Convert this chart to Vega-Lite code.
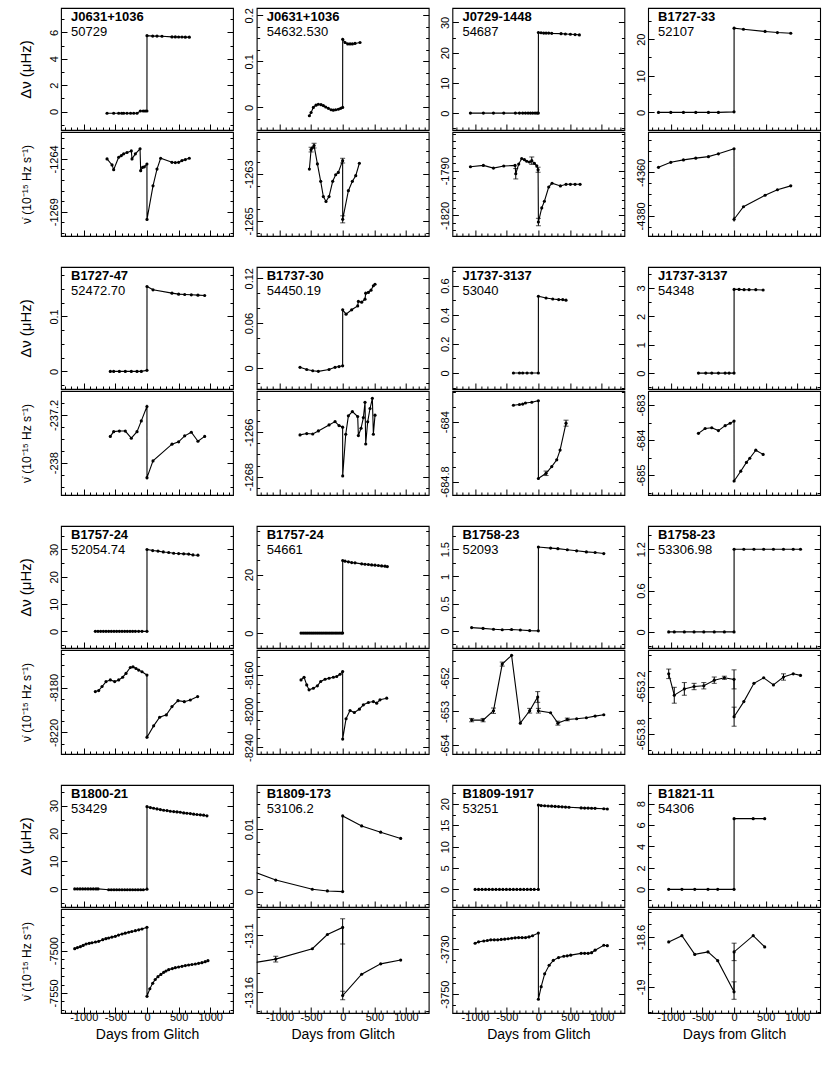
{
"$schema":"https://vega.github.io/schema/vega-lite/v6.json",
"background":"white",
"padding":{"left":17,"top":7,"right":0,"bottom":0},
"datasets":{
"p1t":[{"d":-632,"v":-0.13},{"d":-527,"v":-0.13},{"d":-448,"v":-0.13},{"d":-400,"v":-0.13},{"d":-369,"v":-0.13},{"d":-316,"v":-0.13},{"d":-260,"v":-0.13},{"d":-210,"v":-0.13},{"d":-158,"v":-0.13},{"d":-105,"v":0.04},{"d":-60,"v":0.04},{"d":-30,"v":0.04},{"d":-1,"v":0.04},{"d":0,"v":5.75},{"d":90,"v":5.72},{"d":158,"v":5.72},{"d":237,"v":5.71},{"d":395,"v":5.66},{"d":448,"v":5.66},{"d":500,"v":5.65},{"d":553,"v":5.65},{"d":606,"v":5.64},{"d":669,"v":5.64}],
"p1b":[{"d":-632,"v":-1264.0},{"d":-553,"v":-1264.57},{"d":-527,"v":-1265.02},{"d":-448,"v":-1263.84},{"d":-406,"v":-1263.68},{"d":-369,"v":-1263.52},{"d":-316,"v":-1263.39},{"d":-248,"v":-1263.24},{"d":-237,"v":-1264.0},{"d":-184,"v":-1263.52},{"d":-110,"v":-1263.04},{"d":-100,"v":-1265.11},{"d":-69,"v":-1264.8},{"d":-42,"v":-1264.75},{"d":-1,"v":-1264.48},{"d":0,"v":-1269.73},{"d":95,"v":-1266.55},{"d":158,"v":-1264.96},{"d":216,"v":-1263.94},{"d":395,"v":-1264.32},{"d":448,"v":-1264.35},{"d":500,"v":-1264.32},{"d":553,"v":-1264.16},{"d":606,"v":-1264.06},{"d":669,"v":-1263.94}],
"p2t":[{"d":-527,"v":-0.018},{"d":-500,"v":-0.011},{"d":-464,"v":0.0},{"d":-422,"v":0.005},{"d":-385,"v":0.007},{"d":-343,"v":0.006},{"d":-306,"v":0.004},{"d":-269,"v":0.001},{"d":-227,"v":-0.002},{"d":-184,"v":-0.005},{"d":-148,"v":-0.006},{"d":-111,"v":-0.005},{"d":-69,"v":-0.004},{"d":-32,"v":-0.002},{"d":-1,"v":0.0},{"d":0,"v":0.148},{"d":37,"v":0.141},{"d":79,"v":0.138},{"d":116,"v":0.138},{"d":153,"v":0.138},{"d":195,"v":0.139},{"d":274,"v":0.141}],
"p2b":[{"d":-527,"v":-1262.79},{"d":-500,"v":-1261.96,"lo":-1262.06,"hi":-1261.86},{"d":-480,"v":-1261.88},{"d":-453,"v":-1261.79,"lo":-1261.89,"hi":-1261.69},{"d":-400,"v":-1262.57},{"d":-348,"v":-1263.31},{"d":-306,"v":-1263.96},{"d":-264,"v":-1264.17},{"d":-216,"v":-1263.96},{"d":-158,"v":-1263.31},{"d":-111,"v":-1263.03},{"d":-69,"v":-1262.93},{"d":-1,"v":-1262.43,"lo":-1262.53,"hi":-1262.33},{"d":0,"v":-1264.93,"lo":-1265.08,"hi":-1264.78},{"d":90,"v":-1263.71},{"d":153,"v":-1263.31},{"d":206,"v":-1263.07},{"d":264,"v":-1262.54}],
"p3t":[{"d":-1075,"v":0},{"d":-870,"v":0},{"d":-711,"v":0},{"d":-548,"v":0},{"d":-364,"v":0},{"d":-300,"v":0},{"d":-248,"v":0},{"d":-205,"v":0},{"d":-163,"v":0},{"d":-126,"v":0},{"d":-90,"v":0},{"d":-53,"v":0},{"d":-21,"v":0},{"d":-1,"v":0},{"d":0,"v":26.7},{"d":42,"v":26.6},{"d":84,"v":26.5},{"d":121,"v":26.5},{"d":163,"v":26.5},{"d":211,"v":26.4},{"d":358,"v":26.3},{"d":427,"v":26.2},{"d":506,"v":26.1},{"d":580,"v":26.0},{"d":648,"v":25.9}],
"p3b":[{"d":-1075,"v":-1787.3},{"d":-870,"v":-1786.4},{"d":-711,"v":-1788.2},{"d":-548,"v":-1786.8},{"d":-369,"v":-1786.4},{"d":-358,"v":-1792,"lo":-1795.5,"hi":-1788.5},{"d":-311,"v":-1785.5},{"d":-264,"v":-1781.8},{"d":-221,"v":-1782.5},{"d":-184,"v":-1783.6},{"d":-142,"v":-1784.1},{"d":-105,"v":-1783.2,"lo":-1785.7,"hi":-1780.7},{"d":-63,"v":-1785.0},{"d":-26,"v":-1786.6},{"d":-5,"v":-1789.3,"lo":-1791,"hi":-1787.6},{"d":0,"v":-1824.5,"lo":-1827,"hi":-1822},{"d":53,"v":-1815},{"d":95,"v":-1810.5},{"d":163,"v":-1800.9},{"d":216,"v":-1798.4},{"d":348,"v":-1800.2},{"d":437,"v":-1799.1},{"d":506,"v":-1799.1},{"d":580,"v":-1799.1},{"d":659,"v":-1799.1}],
"p4t":[{"d":-1196,"v":0},{"d":-1001,"v":0},{"d":-801,"v":0},{"d":-606,"v":0},{"d":-406,"v":0},{"d":-248,"v":0},{"d":-1,"v":0.15},{"d":0,"v":23.0},{"d":148,"v":22.7},{"d":490,"v":22.1},{"d":685,"v":21.8},{"d":896,"v":21.6}],
"p4b":[{"d":-1196,"v":-4357.7},{"d":-1001,"v":-4355.4},{"d":-801,"v":-4354.3},{"d":-606,"v":-4353.5},{"d":-406,"v":-4352.8},{"d":-248,"v":-4351.5},{"d":-1,"v":-4349.2},{"d":0,"v":-4381.5,"lo":-4382.6,"hi":-4380.4},{"d":148,"v":-4375.8},{"d":490,"v":-4370.5},{"d":685,"v":-4368},{"d":896,"v":-4366.2}],
"p5t":[{"d":-580,"v":0},{"d":-527,"v":0},{"d":-437,"v":0},{"d":-343,"v":0},{"d":-248,"v":0},{"d":-158,"v":0},{"d":-90,"v":0},{"d":-1,"v":0.002},{"d":0,"v":0.1545},{"d":95,"v":0.1485},{"d":395,"v":0.1424},{"d":500,"v":0.1406},{"d":596,"v":0.14},{"d":701,"v":0.1394},{"d":806,"v":0.1388},{"d":912,"v":0.1382}],
"p5b":[{"d":-580,"v":-237.56},{"d":-527,"v":-237.48},{"d":-437,"v":-237.47},{"d":-343,"v":-237.47},{"d":-248,"v":-237.59},{"d":-158,"v":-237.48},{"d":-90,"v":-237.3},{"d":-1,"v":-237.06,"lo":-237.09,"hi":-237.03},{"d":0,"v":-238.25,"lo":-238.28,"hi":-238.22},{"d":95,"v":-237.97},{"d":395,"v":-237.69},{"d":500,"v":-237.65},{"d":596,"v":-237.55},{"d":701,"v":-237.49},{"d":806,"v":-237.64},{"d":912,"v":-237.56}],
"p6t":[{"d":-675,"v":0.001},{"d":-569,"v":-0.002},{"d":-474,"v":-0.0036},{"d":-385,"v":-0.0044},{"d":-216,"v":-0.002},{"d":-121,"v":0.001},{"d":-58,"v":0.002},{"d":-1,"v":0.003},{"d":0,"v":0.0778},{"d":53,"v":0.072},{"d":142,"v":0.0778},{"d":237,"v":0.083},{"d":248,"v":0.089},{"d":300,"v":0.088},{"d":353,"v":0.092},{"d":364,"v":0.1},{"d":406,"v":0.101},{"d":448,"v":0.104},{"d":485,"v":0.11},{"d":511,"v":0.112}],
"p6b":[{"d":-675,"v":-1266.12},{"d":-569,"v":-1266.06},{"d":-474,"v":-1266.08},{"d":-385,"v":-1265.94},{"d":-216,"v":-1265.67},{"d":-121,"v":-1265.52},{"d":-58,"v":-1265.7},{"d":-1,"v":-1265.77},{"d":0,"v":-1267.97},{"d":48,"v":-1266.09},{"d":90,"v":-1265.26},{"d":153,"v":-1265.07},{"d":237,"v":-1265.29},{"d":248,"v":-1266.15},{"d":290,"v":-1265.82},{"d":327,"v":-1265.34},{"d":353,"v":-1264.65},{"d":364,"v":-1266.53},{"d":395,"v":-1265.53},{"d":432,"v":-1264.93},{"d":469,"v":-1264.47},{"d":485,"v":-1266.09},{"d":511,"v":-1265.23}],
"p7t":[{"d":-395,"v":0},{"d":-300,"v":0},{"d":-248,"v":0},{"d":-179,"v":0},{"d":-105,"v":0},{"d":-1,"v":0},{"d":0,"v":0.527},{"d":121,"v":0.515},{"d":227,"v":0.508},{"d":321,"v":0.504},{"d":385,"v":0.504},{"d":437,"v":0.5}],
"p7b":[{"d":-395,"v":-683.78},{"d":-300,"v":-683.77},{"d":-248,"v":-683.765},{"d":-205,"v":-683.75},{"d":-105,"v":-683.74},{"d":-1,"v":-683.72},{"d":0,"v":-684.76},{"d":121,"v":-684.69,"lo":-684.72,"hi":-684.66},{"d":211,"v":-684.6},{"d":290,"v":-684.51},{"d":343,"v":-684.38},{"d":437,"v":-684.02,"lo":-684.06,"hi":-683.98}],
"p8t":[{"d":-564,"v":0},{"d":-448,"v":0},{"d":-353,"v":0},{"d":-248,"v":0},{"d":-142,"v":0},{"d":-79,"v":0},{"d":-1,"v":0},{"d":0,"v":2.95},{"d":79,"v":2.95},{"d":158,"v":2.94},{"d":237,"v":2.94},{"d":343,"v":2.94},{"d":459,"v":2.93}],
"p8b":[{"d":-564,"v":-683.81},{"d":-458,"v":-683.67},{"d":-353,"v":-683.65},{"d":-248,"v":-683.73},{"d":-142,"v":-683.59},{"d":-63,"v":-683.52},{"d":-1,"v":-683.46},{"d":0,"v":-685.17},{"d":105,"v":-684.89},{"d":195,"v":-684.64},{"d":248,"v":-684.52},{"d":343,"v":-684.29},{"d":459,"v":-684.41}],
"p9t":[{"d":-817,"v":0},{"d":-775,"v":0},{"d":-733,"v":0},{"d":-690,"v":0},{"d":-648,"v":0},{"d":-606,"v":0},{"d":-564,"v":0},{"d":-522,"v":0},{"d":-480,"v":0},{"d":-437,"v":0},{"d":-395,"v":0},{"d":-353,"v":0},{"d":-311,"v":0},{"d":-269,"v":0},{"d":-227,"v":0},{"d":-184,"v":0},{"d":-132,"v":0},{"d":-79,"v":0},{"d":-1,"v":0},{"d":0,"v":30.0},{"d":90,"v":29.6},{"d":174,"v":29.4},{"d":258,"v":29.1},{"d":343,"v":28.9},{"d":422,"v":28.6},{"d":500,"v":28.5},{"d":580,"v":28.4},{"d":659,"v":28.3},{"d":727,"v":28.0},{"d":806,"v":27.9}],
"p9b":[{"d":-817,"v":-8183.6},{"d":-764,"v":-8182.7},{"d":-711,"v":-8179.1},{"d":-648,"v":-8174.7},{"d":-580,"v":-8173.2},{"d":-511,"v":-8174.7},{"d":-448,"v":-8173.2},{"d":-385,"v":-8170.8},{"d":-332,"v":-8167.4},{"d":-264,"v":-8162.1},{"d":-221,"v":-8161.5},{"d":-174,"v":-8163},{"d":-132,"v":-8164.4},{"d":-79,"v":-8165.9},{"d":-1,"v":-8168.9},{"d":0,"v":-8224.3},{"d":105,"v":-8214.2},{"d":200,"v":-8206.5},{"d":306,"v":-8204.4},{"d":395,"v":-8197},{"d":490,"v":-8191.7},{"d":590,"v":-8192.6},{"d":685,"v":-8191.1},{"d":801,"v":-8188.1}],
"p10t":[{"d":-659,"v":0},{"d":-627,"v":0},{"d":-595,"v":0},{"d":-564,"v":0},{"d":-532,"v":0},{"d":-500,"v":0},{"d":-469,"v":0},{"d":-437,"v":0},{"d":-405,"v":0},{"d":-374,"v":0},{"d":-342,"v":0},{"d":-311,"v":0},{"d":-279,"v":0},{"d":-248,"v":0},{"d":-216,"v":0},{"d":-184,"v":0},{"d":-153,"v":0},{"d":-121,"v":0},{"d":-90,"v":0},{"d":-58,"v":0},{"d":-26,"v":0},{"d":-1,"v":0},{"d":0,"v":24.8},{"d":37,"v":24.57},{"d":90,"v":24.34},{"d":142,"v":24.1},{"d":195,"v":24.0},{"d":300,"v":23.66},{"d":353,"v":23.54},{"d":406,"v":23.43},{"d":458,"v":23.3},{"d":511,"v":23.2},{"d":564,"v":23.1},{"d":616,"v":22.97},{"d":669,"v":22.86},{"d":706,"v":22.74}],
"p10b":[{"d":-659,"v":-8165.5},{"d":-611,"v":-8162.6},{"d":-569,"v":-8171},{"d":-532,"v":-8176.5},{"d":-464,"v":-8174.7},{"d":-400,"v":-8172.1},{"d":-348,"v":-8167.3},{"d":-279,"v":-8164.8},{"d":-216,"v":-8163.7},{"d":-148,"v":-8162.6},{"d":-95,"v":-8161.8},{"d":-42,"v":-8159.3},{"d":-1,"v":-8156.3},{"d":0,"v":-8230.8},{"d":53,"v":-8208.4},{"d":116,"v":-8199.3},{"d":184,"v":-8201.5},{"d":264,"v":-8197.8},{"d":327,"v":-8193},{"d":406,"v":-8190.5},{"d":485,"v":-8189.4},{"d":538,"v":-8191.2},{"d":590,"v":-8187.5},{"d":696,"v":-8185.7}],
"p11t":[{"d":-1056,"v":0.06},{"d":-875,"v":0.045},{"d":-710,"v":0.03},{"d":-572,"v":0.02},{"d":-424,"v":0.025},{"d":-286,"v":0.015},{"d":-138,"v":0.005},{"d":-1,"v":0},{"d":0,"v":1.54},{"d":193,"v":1.52},{"d":308,"v":1.51},{"d":457,"v":1.49},{"d":605,"v":1.47},{"d":759,"v":1.45},{"d":897,"v":1.44},{"d":1034,"v":1.42}],
"p11b":[{"d":-1056,"v":-653.26,"lo":-653.31,"hi":-653.21},{"d":-875,"v":-653.26,"lo":-653.31,"hi":-653.21},{"d":-710,"v":-652.98,"lo":-653.06,"hi":-652.9},{"d":-572,"v":-651.59,"lo":-651.65,"hi":-651.53},{"d":-424,"v":-651.33},{"d":-286,"v":-653.35},{"d":-138,"v":-652.98,"lo":-653.05,"hi":-652.91},{"d":-11,"v":-652.57,"lo":-652.73,"hi":-652.41},{"d":0,"v":-652.98,"lo":-653.05,"hi":-652.91},{"d":193,"v":-653.04},{"d":308,"v":-653.35,"lo":-653.41,"hi":-653.29},{"d":457,"v":-653.24,"lo":-653.28,"hi":-653.2},{"d":605,"v":-653.22},{"d":759,"v":-653.19},{"d":897,"v":-653.14},{"d":1034,"v":-653.1}],
"p12t":[{"d":-1034,"v":0},{"d":-946,"v":0},{"d":-787,"v":0},{"d":-633,"v":0},{"d":-479,"v":0},{"d":-314,"v":0},{"d":-154,"v":0},{"d":-1,"v":0},{"d":0,"v":1.2},{"d":154,"v":1.2},{"d":314,"v":1.2},{"d":468,"v":1.2},{"d":622,"v":1.2},{"d":781,"v":1.2},{"d":935,"v":1.2},{"d":1050,"v":1.2}],
"p12b":[{"d":-1034,"v":-653.04,"lo":-653.1,"hi":-652.98},{"d":-946,"v":-653.31,"lo":-653.41,"hi":-653.21},{"d":-787,"v":-653.23,"lo":-653.31,"hi":-653.15},{"d":-633,"v":-653.2,"lo":-653.24,"hi":-653.16},{"d":-479,"v":-653.19,"lo":-653.23,"hi":-653.15},{"d":-314,"v":-653.12,"lo":-653.16,"hi":-653.08},{"d":-154,"v":-653.09,"lo":-653.11,"hi":-653.07},{"d":-1,"v":-653.11,"lo":-653.23,"hi":-652.99},{"d":0,"v":-653.58,"lo":-653.7,"hi":-653.46},{"d":154,"v":-653.39},{"d":314,"v":-653.16},{"d":468,"v":-653.09},{"d":622,"v":-653.18},{"d":781,"v":-653.08,"lo":-653.12,"hi":-653.04},{"d":935,"v":-653.04},{"d":1050,"v":-653.06}],
"p13t":[{"d":-1143,"v":0.1},{"d":-1101,"v":0.1},{"d":-1059,"v":0.1},{"d":-1017,"v":0.1},{"d":-975,"v":0.1},{"d":-933,"v":0.1},{"d":-891,"v":0.1},{"d":-849,"v":0.1},{"d":-807,"v":0.1},{"d":-775,"v":0.1},{"d":-606,"v":-0.2},{"d":-564,"v":-0.2},{"d":-522,"v":-0.2},{"d":-480,"v":-0.2},{"d":-437,"v":-0.2},{"d":-395,"v":-0.2},{"d":-353,"v":-0.2},{"d":-311,"v":-0.2},{"d":-269,"v":-0.2},{"d":-227,"v":-0.2},{"d":-184,"v":-0.2},{"d":-142,"v":-0.2},{"d":-100,"v":-0.2},{"d":-58,"v":-0.2},{"d":-1,"v":0},{"d":0,"v":29.63},{"d":53,"v":29.28},{"d":105,"v":29.04},{"d":158,"v":28.81},{"d":211,"v":28.57},{"d":264,"v":28.34},{"d":316,"v":28.22},{"d":369,"v":27.98},{"d":422,"v":27.86},{"d":474,"v":27.74},{"d":527,"v":27.63},{"d":580,"v":27.39},{"d":632,"v":27.27},{"d":685,"v":27.15},{"d":738,"v":26.92},{"d":790,"v":26.8},{"d":843,"v":26.68},{"d":896,"v":26.56},{"d":948,"v":26.33}],
"p13b":[{"d":-1143,"v":-7497.6},{"d":-1100,"v":-7496.4},{"d":-1054,"v":-7495.3},{"d":-1010,"v":-7493.8},{"d":-964,"v":-7492.1},{"d":-915,"v":-7491.3},{"d":-870,"v":-7490.6},{"d":-815,"v":-7489.8},{"d":-764,"v":-7489},{"d":-700,"v":-7487},{"d":-650,"v":-7485.8},{"d":-606,"v":-7485},{"d":-555,"v":-7484},{"d":-501,"v":-7483.1},{"d":-450,"v":-7481.6},{"d":-395,"v":-7480.3},{"d":-345,"v":-7479.3},{"d":-290,"v":-7478.3},{"d":-240,"v":-7477.4},{"d":-184,"v":-7476.4},{"d":-130,"v":-7475.4},{"d":-79,"v":-7474.4},{"d":-1,"v":-7472.4},{"d":0,"v":-7553.9},{"d":45,"v":-7545},{"d":90,"v":-7538.6},{"d":130,"v":-7534},{"d":174,"v":-7530.7},{"d":220,"v":-7528},{"d":264,"v":-7525.6},{"d":300,"v":-7524},{"d":343,"v":-7522.4},{"d":400,"v":-7521.2},{"d":448,"v":-7520.1},{"d":500,"v":-7519.3},{"d":553,"v":-7518.5},{"d":606,"v":-7517.6},{"d":658,"v":-7516.9},{"d":711,"v":-7516.3},{"d":764,"v":-7515.7},{"d":816,"v":-7515},{"d":869,"v":-7514.2},{"d":920,"v":-7513},{"d":964,"v":-7511.8}],
"p14t":[{"d":-1600,"v":0.0039},{"d":-1059,"v":0.00184},{"d":-480,"v":0.00037},{"d":-242,"v":0.0001},{"d":-1,"v":0},{"d":0,"v":0.0121},{"d":300,"v":0.0105},{"d":601,"v":0.0095},{"d":917,"v":0.0085}],
"p14b":[{"d":-1600,"v":-13.131},{"d":-1059,"v":-13.125,"lo":-13.128,"hi":-13.122},{"d":-480,"v":-13.114},{"d":-242,"v":-13.099},{"d":-1,"v":-13.0915,"lo":-13.109,"hi":-13.0824},{"d":0,"v":-13.1635,"lo":-13.168,"hi":-13.159},{"d":300,"v":-13.141},{"d":601,"v":-13.13},{"d":917,"v":-13.126}],
"p15t":[{"d":-1001,"v":0},{"d":-946,"v":0},{"d":-891,"v":0},{"d":-836,"v":0},{"d":-781,"v":0},{"d":-726,"v":0},{"d":-671,"v":0},{"d":-616,"v":0},{"d":-561,"v":0},{"d":-506,"v":0},{"d":-451,"v":0},{"d":-396,"v":0},{"d":-341,"v":0},{"d":-286,"v":0},{"d":-231,"v":0},{"d":-176,"v":0},{"d":-121,"v":0},{"d":-66,"v":0},{"d":-1,"v":0},{"d":0,"v":19.7},{"d":44,"v":19.6},{"d":99,"v":19.55},{"d":154,"v":19.5},{"d":209,"v":19.45},{"d":264,"v":19.4},{"d":319,"v":19.35},{"d":374,"v":19.3},{"d":429,"v":19.25},{"d":484,"v":19.2},{"d":676,"v":19.05},{"d":731,"v":19.0},{"d":786,"v":19.0},{"d":841,"v":18.97},{"d":896,"v":18.95},{"d":1034,"v":18.85},{"d":1090,"v":18.8}],
"p15b":[{"d":-1001,"v":-3727.4},{"d":-946,"v":-3726.8},{"d":-863,"v":-3726.4},{"d":-808,"v":-3726.2},{"d":-753,"v":-3725.9},{"d":-698,"v":-3725.9},{"d":-643,"v":-3725.9},{"d":-588,"v":-3725.7},{"d":-533,"v":-3725.6},{"d":-478,"v":-3725.4},{"d":-423,"v":-3725.2},{"d":-368,"v":-3725.0},{"d":-313,"v":-3724.9},{"d":-258,"v":-3724.9},{"d":-203,"v":-3724.9},{"d":-148,"v":-3724.6},{"d":-93,"v":-3724.1},{"d":-1,"v":-3722.9},{"d":0,"v":-3752.3},{"d":44,"v":-3746.7},{"d":99,"v":-3741},{"d":170,"v":-3737.2},{"d":236,"v":-3735.0},{"d":319,"v":-3733.8},{"d":401,"v":-3733.2},{"d":456,"v":-3733.0},{"d":511,"v":-3732.7},{"d":676,"v":-3731.9},{"d":731,"v":-3731.9},{"d":786,"v":-3731.9},{"d":841,"v":-3731.6},{"d":896,"v":-3730.5},{"d":1034,"v":-3728.3},{"d":1090,"v":-3728.5}],
"p16t":[{"d":-1034,"v":0},{"d":-825,"v":0},{"d":-622,"v":0},{"d":-413,"v":0},{"d":-259,"v":0},{"d":-1,"v":0},{"d":0,"v":6.6},{"d":302,"v":6.6},{"d":484,"v":6.6}],
"p16b":[{"d":-1034,"v":-18.64},{"d":-825,"v":-18.59},{"d":-622,"v":-18.74},{"d":-413,"v":-18.72},{"d":-259,"v":-18.79},{"d":-1,"v":-19.04,"lo":-19.1,"hi":-18.96},{"d":0,"v":-18.72,"lo":-18.79,"hi":-18.65},{"d":302,"v":-18.59},{"d":484,"v":-18.68}]
},
"concat":[
{"data":{"name":"p1t"},"width":172,"height":122,"title":{"text":"J0631+1036","subtitle":"50729"},
"encoding":{"x":{"field":"d","type":"quantitative","scale":{"domain":[-1360,1360],"nice":false,"zero":false},"axis":{"values":[-1300,-1200,-1100,-1000,-900,-800,-700,-600,-500,-400,-300,-200,-100,0,100,200,300,400,500,600,700,800,900,1000,1100,1200,1300],"labels":false,"title":null,"tickSize":{"condition":{"test":"datum.value % 500 === 0","value":-6},"value":-3}}}},
"layer":[
{"mark":{"type":"line","color":"black","strokeWidth":1.1},"encoding":{"y":{"field":"v","type":"quantitative","scale":{"domain":[-1.4,7.85],"nice":false,"zero":false},"axis":{"values":[-1,0,1,2,3,4,5,6,7],"labelExpr":"indexof([0,2,4,6], datum.value) >= 0 ? '' + datum.value : ''","tickSize":{"condition":{"test":"indexof([0,2,4,6], datum.value) >= 0","value":-6},"value":-3},"title":"Δν  (μHz)","titleFontSize":15}}}},
{"mark":{"type":"circle","color":"black","size":10,"opacity":1},"encoding":{"y":{"field":"v","type":"quantitative","scale":{"domain":[-1.4,7.85],"nice":false,"zero":false},"axis":{"orient":"right","values":[-1,0,1,2,3,4,5,6,7],"labels":false,"title":null,"tickSize":{"condition":{"test":"indexof([0,2,4,6], datum.value) >= 0","value":-6},"value":-3}}}}}
],"resolve":{"axis":{"y":"independent"}}},
{"data":{"name":"p2t"},"width":172,"height":122,"title":{"text":"J0631+1036","subtitle":"54632.530"},
"encoding":{"x":{"field":"d","type":"quantitative","scale":{"domain":[-1360,1360],"nice":false,"zero":false},"axis":{"values":[-1300,-1200,-1100,-1000,-900,-800,-700,-600,-500,-400,-300,-200,-100,0,100,200,300,400,500,600,700,800,900,1000,1100,1200,1300],"labels":false,"title":null,"tickSize":{"condition":{"test":"datum.value % 500 === 0","value":-6},"value":-3}}}},
"layer":[
{"mark":{"type":"line","color":"black","strokeWidth":1.1},"encoding":{"y":{"field":"v","type":"quantitative","scale":{"domain":[-0.049,0.216],"nice":false,"zero":false},"axis":{"values":[-0.025,0,0.025,0.05,0.075,0.1,0.125,0.15,0.175,0.2],"labelExpr":"indexof([0,0.1,0.2], datum.value) >= 0 ? '' + datum.value : ''","tickSize":{"condition":{"test":"indexof([0,0.1,0.2], datum.value) >= 0","value":-6},"value":-3},"title":null}}}},
{"mark":{"type":"circle","color":"black","size":10,"opacity":1},"encoding":{"y":{"field":"v","type":"quantitative","scale":{"domain":[-0.049,0.216],"nice":false,"zero":false},"axis":{"orient":"right","values":[-0.025,0,0.025,0.05,0.075,0.1,0.125,0.15,0.175,0.2],"labels":false,"title":null,"tickSize":{"condition":{"test":"indexof([0,0.1,0.2], datum.value) >= 0","value":-6},"value":-3}}}}}
],"resolve":{"axis":{"y":"independent"}}},
{"data":{"name":"p3t"},"width":172,"height":122,"title":{"text":"J0729-1448","subtitle":"54687"},
"encoding":{"x":{"field":"d","type":"quantitative","scale":{"domain":[-1360,1360],"nice":false,"zero":false},"axis":{"values":[-1300,-1200,-1100,-1000,-900,-800,-700,-600,-500,-400,-300,-200,-100,0,100,200,300,400,500,600,700,800,900,1000,1100,1200,1300],"labels":false,"title":null,"tickSize":{"condition":{"test":"datum.value % 500 === 0","value":-6},"value":-3}}}},
"layer":[
{"mark":{"type":"line","color":"black","strokeWidth":1.1},"encoding":{"y":{"field":"v","type":"quantitative","scale":{"domain":[-5.6,34.8],"nice":false,"zero":false},"axis":{"values":[-5,0,5,10,15,20,25,30],"labelExpr":"indexof([0,10,20,30], datum.value) >= 0 ? '' + datum.value : ''","tickSize":{"condition":{"test":"indexof([0,10,20,30], datum.value) >= 0","value":-6},"value":-3},"title":null}}}},
{"mark":{"type":"circle","color":"black","size":10,"opacity":1},"encoding":{"y":{"field":"v","type":"quantitative","scale":{"domain":[-5.6,34.8],"nice":false,"zero":false},"axis":{"orient":"right","values":[-5,0,5,10,15,20,25,30],"labels":false,"title":null,"tickSize":{"condition":{"test":"indexof([0,10,20,30], datum.value) >= 0","value":-6},"value":-3}}}}}
],"resolve":{"axis":{"y":"independent"}}},
{"data":{"name":"p4t"},"width":172,"height":122,"title":{"text":"B1727-33","subtitle":"52107"},
"encoding":{"x":{"field":"d","type":"quantitative","scale":{"domain":[-1360,1360],"nice":false,"zero":false},"axis":{"values":[-1300,-1200,-1100,-1000,-900,-800,-700,-600,-500,-400,-300,-200,-100,0,100,200,300,400,500,600,700,800,900,1000,1100,1200,1300],"labels":false,"title":null,"tickSize":{"condition":{"test":"datum.value % 500 === 0","value":-6},"value":-3}}}},
"layer":[
{"mark":{"type":"line","color":"black","strokeWidth":1.1},"encoding":{"y":{"field":"v","type":"quantitative","scale":{"domain":[-4.8,28.5],"nice":false,"zero":false},"axis":{"values":[0,5,10,15,20,25],"labelExpr":"indexof([0,10,20], datum.value) >= 0 ? '' + datum.value : ''","tickSize":{"condition":{"test":"indexof([0,10,20], datum.value) >= 0","value":-6},"value":-3},"title":null}}}},
{"mark":{"type":"circle","color":"black","size":10,"opacity":1},"encoding":{"y":{"field":"v","type":"quantitative","scale":{"domain":[-4.8,28.5],"nice":false,"zero":false},"axis":{"orient":"right","values":[0,5,10,15,20,25],"labels":false,"title":null,"tickSize":{"condition":{"test":"indexof([0,10,20], datum.value) >= 0","value":-6},"value":-3}}}}}
],"resolve":{"axis":{"y":"independent"}}},
{"data":{"name":"p1b"},"width":172,"height":104,
"encoding":{"x":{"field":"d","type":"quantitative","scale":{"domain":[-1360,1360],"nice":false,"zero":false},"axis":{"values":[-1300,-1200,-1100,-1000,-900,-800,-700,-600,-500,-400,-300,-200,-100,0,100,200,300,400,500,600,700,800,900,1000,1100,1200,1300],"labels":false,"title":" ","titleFontSize":1,"titlePadding":28.5,"tickSize":{"condition":{"test":"datum.value % 500 === 0","value":-6},"value":-3}}}},
"layer":[
{"mark":{"type":"line","color":"black","strokeWidth":1.1},"encoding":{"y":{"field":"v","type":"quantitative","scale":{"domain":[-1271.3,-1261.45],"nice":false,"zero":false},"axis":{"values":[-1271,-1270,-1269,-1268,-1267,-1266,-1265,-1264,-1263,-1262],"labelExpr":"indexof([-1264,-1269], datum.value) >= 0 ? '' + datum.value : ''","tickSize":{"condition":{"test":"indexof([-1264,-1269], datum.value) >= 0","value":-6},"value":-3},"title":"ν̇ (10⁻¹⁵ Hz s⁻¹)","titleFontSize":12}}}},
{"mark":{"type":"circle","color":"black","size":10,"opacity":1},"encoding":{"y":{"field":"v","type":"quantitative","scale":{"domain":[-1271.3,-1261.45],"nice":false,"zero":false},"axis":{"orient":"right","values":[-1271,-1270,-1269,-1268,-1267,-1266,-1265,-1264,-1263,-1262],"labels":false,"title":null,"tickSize":{"condition":{"test":"indexof([-1264,-1269], datum.value) >= 0","value":-6},"value":-3}}}}}
],"resolve":{"axis":{"y":"independent"}}},
{"data":{"name":"p2b"},"width":172,"height":104,
"encoding":{"x":{"field":"d","type":"quantitative","scale":{"domain":[-1360,1360],"nice":false,"zero":false},"axis":{"values":[-1300,-1200,-1100,-1000,-900,-800,-700,-600,-500,-400,-300,-200,-100,0,100,200,300,400,500,600,700,800,900,1000,1100,1200,1300],"labels":false,"title":" ","titleFontSize":1,"titlePadding":28.5,"tickSize":{"condition":{"test":"datum.value % 500 === 0","value":-6},"value":-3}}}},
"layer":[
{"mark":{"type":"rule","color":"black","strokeWidth":1},"encoding":{"y":{"field":"lo","type":"quantitative","scale":{"domain":[-1265.64,-1261.21],"nice":false,"zero":false},"axis":null},"y2":{"field":"hi"}}},
{"mark":{"type":"tick","color":"black","orient":"horizontal","size":5,"thickness":1},"encoding":{"y":{"field":"lo","type":"quantitative","scale":{"domain":[-1265.64,-1261.21],"nice":false,"zero":false},"axis":null}}},
{"mark":{"type":"tick","color":"black","orient":"horizontal","size":5,"thickness":1},"encoding":{"y":{"field":"hi","type":"quantitative","scale":{"domain":[-1265.64,-1261.21],"nice":false,"zero":false},"axis":null}}},
{"mark":{"type":"line","color":"black","strokeWidth":1.1},"encoding":{"y":{"field":"v","type":"quantitative","scale":{"domain":[-1265.64,-1261.21],"nice":false,"zero":false},"axis":{"values":[-1265.5,-1265,-1264.5,-1264,-1263.5,-1263,-1262.5,-1262,-1261.5],"labelExpr":"indexof([-1263,-1265], datum.value) >= 0 ? '' + datum.value : ''","tickSize":{"condition":{"test":"indexof([-1263,-1265], datum.value) >= 0","value":-6},"value":-3},"title":null}}}},
{"mark":{"type":"circle","color":"black","size":10,"opacity":1},"encoding":{"y":{"field":"v","type":"quantitative","scale":{"domain":[-1265.64,-1261.21],"nice":false,"zero":false},"axis":{"orient":"right","values":[-1265.5,-1265,-1264.5,-1264,-1263.5,-1263,-1262.5,-1262,-1261.5],"labels":false,"title":null,"tickSize":{"condition":{"test":"indexof([-1263,-1265], datum.value) >= 0","value":-6},"value":-3}}}}}
],"resolve":{"axis":{"y":"independent"}}},
{"data":{"name":"p3b"},"width":172,"height":104,
"encoding":{"x":{"field":"d","type":"quantitative","scale":{"domain":[-1360,1360],"nice":false,"zero":false},"axis":{"values":[-1300,-1200,-1100,-1000,-900,-800,-700,-600,-500,-400,-300,-200,-100,0,100,200,300,400,500,600,700,800,900,1000,1100,1200,1300],"labels":false,"title":" ","titleFontSize":1,"titlePadding":28.5,"tickSize":{"condition":{"test":"datum.value % 500 === 0","value":-6},"value":-3}}}},
"layer":[
{"mark":{"type":"rule","color":"black","strokeWidth":1},"encoding":{"y":{"field":"lo","type":"quantitative","scale":{"domain":[-1833.9,-1763.9],"nice":false,"zero":false},"axis":null},"y2":{"field":"hi"}}},
{"mark":{"type":"tick","color":"black","orient":"horizontal","size":5,"thickness":1},"encoding":{"y":{"field":"lo","type":"quantitative","scale":{"domain":[-1833.9,-1763.9],"nice":false,"zero":false},"axis":null}}},
{"mark":{"type":"tick","color":"black","orient":"horizontal","size":5,"thickness":1},"encoding":{"y":{"field":"hi","type":"quantitative","scale":{"domain":[-1833.9,-1763.9],"nice":false,"zero":false},"axis":null}}},
{"mark":{"type":"line","color":"black","strokeWidth":1.1},"encoding":{"y":{"field":"v","type":"quantitative","scale":{"domain":[-1833.9,-1763.9],"nice":false,"zero":false},"axis":{"values":[-1830,-1825,-1820,-1815,-1810,-1805,-1800,-1795,-1790,-1785,-1780,-1775,-1770,-1765],"labelExpr":"indexof([-1790,-1820], datum.value) >= 0 ? '' + datum.value : ''","tickSize":{"condition":{"test":"indexof([-1790,-1820], datum.value) >= 0","value":-6},"value":-3},"title":null}}}},
{"mark":{"type":"circle","color":"black","size":10,"opacity":1},"encoding":{"y":{"field":"v","type":"quantitative","scale":{"domain":[-1833.9,-1763.9],"nice":false,"zero":false},"axis":{"orient":"right","values":[-1830,-1825,-1820,-1815,-1810,-1805,-1800,-1795,-1790,-1785,-1780,-1775,-1770,-1765],"labels":false,"title":null,"tickSize":{"condition":{"test":"indexof([-1790,-1820], datum.value) >= 0","value":-6},"value":-3}}}}}
],"resolve":{"axis":{"y":"independent"}}},
{"data":{"name":"p4b"},"width":172,"height":104,
"encoding":{"x":{"field":"d","type":"quantitative","scale":{"domain":[-1360,1360],"nice":false,"zero":false},"axis":{"values":[-1300,-1200,-1100,-1000,-900,-800,-700,-600,-500,-400,-300,-200,-100,0,100,200,300,400,500,600,700,800,900,1000,1100,1200,1300],"labels":false,"title":" ","titleFontSize":1,"titlePadding":28.5,"tickSize":{"condition":{"test":"datum.value % 500 === 0","value":-6},"value":-3}}}},
"layer":[
{"mark":{"type":"rule","color":"black","strokeWidth":1},"encoding":{"y":{"field":"lo","type":"quantitative","scale":{"domain":[-4389.2,-4341.5],"nice":false,"zero":false},"axis":null},"y2":{"field":"hi"}}},
{"mark":{"type":"line","color":"black","strokeWidth":1.1},"encoding":{"y":{"field":"v","type":"quantitative","scale":{"domain":[-4389.2,-4341.5],"nice":false,"zero":false},"axis":{"values":[-4385,-4380,-4375,-4370,-4365,-4360,-4355,-4350,-4345],"labelExpr":"indexof([-4360,-4380], datum.value) >= 0 ? '' + datum.value : ''","tickSize":{"condition":{"test":"indexof([-4360,-4380], datum.value) >= 0","value":-6},"value":-3},"title":null}}}},
{"mark":{"type":"circle","color":"black","size":10,"opacity":1},"encoding":{"y":{"field":"v","type":"quantitative","scale":{"domain":[-4389.2,-4341.5],"nice":false,"zero":false},"axis":{"orient":"right","values":[-4385,-4380,-4375,-4370,-4365,-4360,-4355,-4350,-4345],"labels":false,"title":null,"tickSize":{"condition":{"test":"indexof([-4360,-4380], datum.value) >= 0","value":-6},"value":-3}}}}}
],"resolve":{"axis":{"y":"independent"}}},
{"data":{"name":"p5t"},"width":172,"height":122,"title":{"text":"B1727-47","subtitle":"52472.70"},
"encoding":{"x":{"field":"d","type":"quantitative","scale":{"domain":[-1360,1360],"nice":false,"zero":false},"axis":{"values":[-1300,-1200,-1100,-1000,-900,-800,-700,-600,-500,-400,-300,-200,-100,0,100,200,300,400,500,600,700,800,900,1000,1100,1200,1300],"labels":false,"title":null,"tickSize":{"condition":{"test":"datum.value % 500 === 0","value":-6},"value":-3}}}},
"layer":[
{"mark":{"type":"line","color":"black","strokeWidth":1.1},"encoding":{"y":{"field":"v","type":"quantitative","scale":{"domain":[-0.032,0.19],"nice":false,"zero":false},"axis":{"values":[-0.025,0,0.025,0.05,0.075,0.1,0.125,0.15,0.175],"labelExpr":"indexof([0,0.1], datum.value) >= 0 ? '' + datum.value : ''","tickSize":{"condition":{"test":"indexof([0,0.1], datum.value) >= 0","value":-6},"value":-3},"title":"Δν  (μHz)","titleFontSize":15}}}},
{"mark":{"type":"circle","color":"black","size":10,"opacity":1},"encoding":{"y":{"field":"v","type":"quantitative","scale":{"domain":[-0.032,0.19],"nice":false,"zero":false},"axis":{"orient":"right","values":[-0.025,0,0.025,0.05,0.075,0.1,0.125,0.15,0.175],"labels":false,"title":null,"tickSize":{"condition":{"test":"indexof([0,0.1], datum.value) >= 0","value":-6},"value":-3}}}}}
],"resolve":{"axis":{"y":"independent"}}},
{"data":{"name":"p6t"},"width":172,"height":122,"title":{"text":"B1737-30","subtitle":"54450.19"},
"encoding":{"x":{"field":"d","type":"quantitative","scale":{"domain":[-1360,1360],"nice":false,"zero":false},"axis":{"values":[-1300,-1200,-1100,-1000,-900,-800,-700,-600,-500,-400,-300,-200,-100,0,100,200,300,400,500,600,700,800,900,1000,1100,1200,1300],"labels":false,"title":null,"tickSize":{"condition":{"test":"datum.value % 500 === 0","value":-6},"value":-3}}}},
"layer":[
{"mark":{"type":"line","color":"black","strokeWidth":1.1},"encoding":{"y":{"field":"v","type":"quantitative","scale":{"domain":[-0.028,0.135],"nice":false,"zero":false},"axis":{"values":[-0.02,0,0.02,0.04,0.06,0.08,0.1,0.12],"labelExpr":"indexof([0,0.06,0.12], datum.value) >= 0 ? '' + datum.value : ''","tickSize":{"condition":{"test":"indexof([0,0.06,0.12], datum.value) >= 0","value":-6},"value":-3},"title":null}}}},
{"mark":{"type":"circle","color":"black","size":10,"opacity":1},"encoding":{"y":{"field":"v","type":"quantitative","scale":{"domain":[-0.028,0.135],"nice":false,"zero":false},"axis":{"orient":"right","values":[-0.02,0,0.02,0.04,0.06,0.08,0.1,0.12],"labels":false,"title":null,"tickSize":{"condition":{"test":"indexof([0,0.06,0.12], datum.value) >= 0","value":-6},"value":-3}}}}}
],"resolve":{"axis":{"y":"independent"}}},
{"data":{"name":"p7t"},"width":172,"height":122,"title":{"text":"J1737-3137","subtitle":"53040"},
"encoding":{"x":{"field":"d","type":"quantitative","scale":{"domain":[-1360,1360],"nice":false,"zero":false},"axis":{"values":[-1300,-1200,-1100,-1000,-900,-800,-700,-600,-500,-400,-300,-200,-100,0,100,200,300,400,500,600,700,800,900,1000,1100,1200,1300],"labels":false,"title":null,"tickSize":{"condition":{"test":"datum.value % 500 === 0","value":-6},"value":-3}}}},
"layer":[
{"mark":{"type":"line","color":"black","strokeWidth":1.1},"encoding":{"y":{"field":"v","type":"quantitative","scale":{"domain":[-0.11,0.728],"nice":false,"zero":false},"axis":{"values":[-0.1,0,0.1,0.2,0.3,0.4,0.5,0.6,0.7],"labelExpr":"indexof([0,0.2,0.4,0.6], datum.value) >= 0 ? '' + datum.value : ''","tickSize":{"condition":{"test":"indexof([0,0.2,0.4,0.6], datum.value) >= 0","value":-6},"value":-3},"title":null}}}},
{"mark":{"type":"circle","color":"black","size":10,"opacity":1},"encoding":{"y":{"field":"v","type":"quantitative","scale":{"domain":[-0.11,0.728],"nice":false,"zero":false},"axis":{"orient":"right","values":[-0.1,0,0.1,0.2,0.3,0.4,0.5,0.6,0.7],"labels":false,"title":null,"tickSize":{"condition":{"test":"indexof([0,0.2,0.4,0.6], datum.value) >= 0","value":-6},"value":-3}}}}}
],"resolve":{"axis":{"y":"independent"}}},
{"data":{"name":"p8t"},"width":172,"height":122,"title":{"text":"J1737-3137","subtitle":"54348"},
"encoding":{"x":{"field":"d","type":"quantitative","scale":{"domain":[-1360,1360],"nice":false,"zero":false},"axis":{"values":[-1300,-1200,-1100,-1000,-900,-800,-700,-600,-500,-400,-300,-200,-100,0,100,200,300,400,500,600,700,800,900,1000,1100,1200,1300],"labels":false,"title":null,"tickSize":{"condition":{"test":"datum.value % 500 === 0","value":-6},"value":-3}}}},
"layer":[
{"mark":{"type":"line","color":"black","strokeWidth":1.1},"encoding":{"y":{"field":"v","type":"quantitative","scale":{"domain":[-0.56,3.74],"nice":false,"zero":false},"axis":{"values":[-0.5,0,0.5,1,1.5,2,2.5,3,3.5],"labelExpr":"indexof([0,1,2,3], datum.value) >= 0 ? '' + datum.value : ''","tickSize":{"condition":{"test":"indexof([0,1,2,3], datum.value) >= 0","value":-6},"value":-3},"title":null}}}},
{"mark":{"type":"circle","color":"black","size":10,"opacity":1},"encoding":{"y":{"field":"v","type":"quantitative","scale":{"domain":[-0.56,3.74],"nice":false,"zero":false},"axis":{"orient":"right","values":[-0.5,0,0.5,1,1.5,2,2.5,3,3.5],"labels":false,"title":null,"tickSize":{"condition":{"test":"indexof([0,1,2,3], datum.value) >= 0","value":-6},"value":-3}}}}}
],"resolve":{"axis":{"y":"independent"}}},
{"data":{"name":"p5b"},"width":172,"height":104,
"encoding":{"x":{"field":"d","type":"quantitative","scale":{"domain":[-1360,1360],"nice":false,"zero":false},"axis":{"values":[-1300,-1200,-1100,-1000,-900,-800,-700,-600,-500,-400,-300,-200,-100,0,100,200,300,400,500,600,700,800,900,1000,1100,1200,1300],"labels":false,"title":" ","titleFontSize":1,"titlePadding":28.5,"tickSize":{"condition":{"test":"datum.value % 500 === 0","value":-6},"value":-3}}}},
"layer":[
{"mark":{"type":"rule","color":"black","strokeWidth":1},"encoding":{"y":{"field":"lo","type":"quantitative","scale":{"domain":[-238.54,-236.8],"nice":false,"zero":false},"axis":null},"y2":{"field":"hi"}}},
{"mark":{"type":"line","color":"black","strokeWidth":1.1},"encoding":{"y":{"field":"v","type":"quantitative","scale":{"domain":[-238.54,-236.8],"nice":false,"zero":false},"axis":{"values":[-238.4,-238.2,-238,-237.8,-237.6,-237.4,-237.2,-237],"labelExpr":"indexof([-237.2,-238], datum.value) >= 0 ? '' + datum.value : ''","tickSize":{"condition":{"test":"indexof([-237.2,-238], datum.value) >= 0","value":-6},"value":-3},"title":"ν̇ (10⁻¹⁵ Hz s⁻¹)","titleFontSize":12}}}},
{"mark":{"type":"circle","color":"black","size":10,"opacity":1},"encoding":{"y":{"field":"v","type":"quantitative","scale":{"domain":[-238.54,-236.8],"nice":false,"zero":false},"axis":{"orient":"right","values":[-238.4,-238.2,-238,-237.8,-237.6,-237.4,-237.2,-237],"labels":false,"title":null,"tickSize":{"condition":{"test":"indexof([-237.2,-238], datum.value) >= 0","value":-6},"value":-3}}}}}
],"resolve":{"axis":{"y":"independent"}}},
{"data":{"name":"p6b"},"width":172,"height":104,
"encoding":{"x":{"field":"d","type":"quantitative","scale":{"domain":[-1360,1360],"nice":false,"zero":false},"axis":{"values":[-1300,-1200,-1100,-1000,-900,-800,-700,-600,-500,-400,-300,-200,-100,0,100,200,300,400,500,600,700,800,900,1000,1100,1200,1300],"labels":false,"title":" ","titleFontSize":1,"titlePadding":28.5,"tickSize":{"condition":{"test":"datum.value % 500 === 0","value":-6},"value":-3}}}},
"layer":[
{"mark":{"type":"line","color":"black","strokeWidth":1.1},"encoding":{"y":{"field":"v","type":"quantitative","scale":{"domain":[-1268.83,-1264.14],"nice":false,"zero":false},"axis":{"values":[-1268.5,-1268,-1267.5,-1267,-1266.5,-1266,-1265.5,-1265,-1264.5],"labelExpr":"indexof([-1266,-1268], datum.value) >= 0 ? '' + datum.value : ''","tickSize":{"condition":{"test":"indexof([-1266,-1268], datum.value) >= 0","value":-6},"value":-3},"title":null}}}},
{"mark":{"type":"circle","color":"black","size":10,"opacity":1},"encoding":{"y":{"field":"v","type":"quantitative","scale":{"domain":[-1268.83,-1264.14],"nice":false,"zero":false},"axis":{"orient":"right","values":[-1268.5,-1268,-1267.5,-1267,-1266.5,-1266,-1265.5,-1265,-1264.5],"labels":false,"title":null,"tickSize":{"condition":{"test":"indexof([-1266,-1268], datum.value) >= 0","value":-6},"value":-3}}}}}
],"resolve":{"axis":{"y":"independent"}}},
{"data":{"name":"p7b"},"width":172,"height":104,
"encoding":{"x":{"field":"d","type":"quantitative","scale":{"domain":[-1360,1360],"nice":false,"zero":false},"axis":{"values":[-1300,-1200,-1100,-1000,-900,-800,-700,-600,-500,-400,-300,-200,-100,0,100,200,300,400,500,600,700,800,900,1000,1100,1200,1300],"labels":false,"title":" ","titleFontSize":1,"titlePadding":28.5,"tickSize":{"condition":{"test":"datum.value % 500 === 0","value":-6},"value":-3}}}},
"layer":[
{"mark":{"type":"rule","color":"black","strokeWidth":1},"encoding":{"y":{"field":"lo","type":"quantitative","scale":{"domain":[-684.98,-683.59],"nice":false,"zero":false},"axis":null},"y2":{"field":"hi"}}},
{"mark":{"type":"tick","color":"black","orient":"horizontal","size":5,"thickness":1},"encoding":{"y":{"field":"lo","type":"quantitative","scale":{"domain":[-684.98,-683.59],"nice":false,"zero":false},"axis":null}}},
{"mark":{"type":"tick","color":"black","orient":"horizontal","size":5,"thickness":1},"encoding":{"y":{"field":"hi","type":"quantitative","scale":{"domain":[-684.98,-683.59],"nice":false,"zero":false},"axis":null}}},
{"mark":{"type":"line","color":"black","strokeWidth":1.1},"encoding":{"y":{"field":"v","type":"quantitative","scale":{"domain":[-684.98,-683.59],"nice":false,"zero":false},"axis":{"values":[-684.8,-684.6,-684.4,-684.2,-684,-683.8,-683.6],"labelExpr":"indexof([-684,-684.8], datum.value) >= 0 ? '' + datum.value : ''","tickSize":{"condition":{"test":"indexof([-684,-684.8], datum.value) >= 0","value":-6},"value":-3},"title":null}}}},
{"mark":{"type":"circle","color":"black","size":10,"opacity":1},"encoding":{"y":{"field":"v","type":"quantitative","scale":{"domain":[-684.98,-683.59],"nice":false,"zero":false},"axis":{"orient":"right","values":[-684.8,-684.6,-684.4,-684.2,-684,-683.8,-683.6],"labels":false,"title":null,"tickSize":{"condition":{"test":"indexof([-684,-684.8], datum.value) >= 0","value":-6},"value":-3}}}}}
],"resolve":{"axis":{"y":"independent"}}},
{"data":{"name":"p8b"},"width":172,"height":104,
"encoding":{"x":{"field":"d","type":"quantitative","scale":{"domain":[-1360,1360],"nice":false,"zero":false},"axis":{"values":[-1300,-1200,-1100,-1000,-900,-800,-700,-600,-500,-400,-300,-200,-100,0,100,200,300,400,500,600,700,800,900,1000,1100,1200,1300],"labels":false,"title":" ","titleFontSize":1,"titlePadding":28.5,"tickSize":{"condition":{"test":"datum.value % 500 === 0","value":-6},"value":-3}}}},
"layer":[
{"mark":{"type":"line","color":"black","strokeWidth":1.1},"encoding":{"y":{"field":"v","type":"quantitative","scale":{"domain":[-685.57,-682.6],"nice":false,"zero":false},"axis":{"values":[-685.5,-685,-684.5,-684,-683.5,-683],"labelExpr":"indexof([-683,-684,-685], datum.value) >= 0 ? '' + datum.value : ''","tickSize":{"condition":{"test":"indexof([-683,-684,-685], datum.value) >= 0","value":-6},"value":-3},"title":null}}}},
{"mark":{"type":"circle","color":"black","size":10,"opacity":1},"encoding":{"y":{"field":"v","type":"quantitative","scale":{"domain":[-685.57,-682.6],"nice":false,"zero":false},"axis":{"orient":"right","values":[-685.5,-685,-684.5,-684,-683.5,-683],"labels":false,"title":null,"tickSize":{"condition":{"test":"indexof([-683,-684,-685], datum.value) >= 0","value":-6},"value":-3}}}}}
],"resolve":{"axis":{"y":"independent"}}},
{"data":{"name":"p9t"},"width":172,"height":122,"title":{"text":"B1757-24","subtitle":"52054.74"},
"encoding":{"x":{"field":"d","type":"quantitative","scale":{"domain":[-1360,1360],"nice":false,"zero":false},"axis":{"values":[-1300,-1200,-1100,-1000,-900,-800,-700,-600,-500,-400,-300,-200,-100,0,100,200,300,400,500,600,700,800,900,1000,1100,1200,1300],"labels":false,"title":null,"tickSize":{"condition":{"test":"datum.value % 500 === 0","value":-6},"value":-3}}}},
"layer":[
{"mark":{"type":"line","color":"black","strokeWidth":1.1},"encoding":{"y":{"field":"v","type":"quantitative","scale":{"domain":[-6.1,38.6],"nice":false,"zero":false},"axis":{"values":[-5,0,5,10,15,20,25,30,35],"labelExpr":"indexof([0,10,20,30], datum.value) >= 0 ? '' + datum.value : ''","tickSize":{"condition":{"test":"indexof([0,10,20,30], datum.value) >= 0","value":-6},"value":-3},"title":"Δν  (μHz)","titleFontSize":15}}}},
{"mark":{"type":"circle","color":"black","size":10,"opacity":1},"encoding":{"y":{"field":"v","type":"quantitative","scale":{"domain":[-6.1,38.6],"nice":false,"zero":false},"axis":{"orient":"right","values":[-5,0,5,10,15,20,25,30,35],"labels":false,"title":null,"tickSize":{"condition":{"test":"indexof([0,10,20,30], datum.value) >= 0","value":-6},"value":-3}}}}}
],"resolve":{"axis":{"y":"independent"}}},
{"data":{"name":"p10t"},"width":172,"height":122,"title":{"text":"B1757-24","subtitle":"54661"},
"encoding":{"x":{"field":"d","type":"quantitative","scale":{"domain":[-1360,1360],"nice":false,"zero":false},"axis":{"values":[-1300,-1200,-1100,-1000,-900,-800,-700,-600,-500,-400,-300,-200,-100,0,100,200,300,400,500,600,700,800,900,1000,1100,1200,1300],"labels":false,"title":null,"tickSize":{"condition":{"test":"datum.value % 500 === 0","value":-6},"value":-3}}}},
"layer":[
{"mark":{"type":"line","color":"black","strokeWidth":1.1},"encoding":{"y":{"field":"v","type":"quantitative","scale":{"domain":[-5.1,36.6],"nice":false,"zero":false},"axis":{"values":[-5,0,5,10,15,20,25,30,35],"labelExpr":"indexof([0,20], datum.value) >= 0 ? '' + datum.value : ''","tickSize":{"condition":{"test":"indexof([0,20], datum.value) >= 0","value":-6},"value":-3},"title":null}}}},
{"mark":{"type":"circle","color":"black","size":10,"opacity":1},"encoding":{"y":{"field":"v","type":"quantitative","scale":{"domain":[-5.1,36.6],"nice":false,"zero":false},"axis":{"orient":"right","values":[-5,0,5,10,15,20,25,30,35],"labels":false,"title":null,"tickSize":{"condition":{"test":"indexof([0,20], datum.value) >= 0","value":-6},"value":-3}}}}}
],"resolve":{"axis":{"y":"independent"}}},
{"data":{"name":"p11t"},"width":172,"height":122,"title":{"text":"B1758-23","subtitle":"52093"},
"encoding":{"x":{"field":"d","type":"quantitative","scale":{"domain":[-1360,1360],"nice":false,"zero":false},"axis":{"values":[-1300,-1200,-1100,-1000,-900,-800,-700,-600,-500,-400,-300,-200,-100,0,100,200,300,400,500,600,700,800,900,1000,1100,1200,1300],"labels":false,"title":null,"tickSize":{"condition":{"test":"datum.value % 500 === 0","value":-6},"value":-3}}}},
"layer":[
{"mark":{"type":"line","color":"black","strokeWidth":1.1},"encoding":{"y":{"field":"v","type":"quantitative","scale":{"domain":[-0.315,1.926],"nice":false,"zero":false},"axis":{"values":[-0.25,0,0.25,0.5,0.75,1,1.25,1.5,1.75],"labelExpr":"indexof([0,0.5,1,1.5], datum.value) >= 0 ? '' + datum.value : ''","tickSize":{"condition":{"test":"indexof([0,0.5,1,1.5], datum.value) >= 0","value":-6},"value":-3},"title":null}}}},
{"mark":{"type":"circle","color":"black","size":10,"opacity":1},"encoding":{"y":{"field":"v","type":"quantitative","scale":{"domain":[-0.315,1.926],"nice":false,"zero":false},"axis":{"orient":"right","values":[-0.25,0,0.25,0.5,0.75,1,1.25,1.5,1.75],"labels":false,"title":null,"tickSize":{"condition":{"test":"indexof([0,0.5,1,1.5], datum.value) >= 0","value":-6},"value":-3}}}}}
],"resolve":{"axis":{"y":"independent"}}},
{"data":{"name":"p12t"},"width":172,"height":122,"title":{"text":"B1758-23","subtitle":"53306.98"},
"encoding":{"x":{"field":"d","type":"quantitative","scale":{"domain":[-1360,1360],"nice":false,"zero":false},"axis":{"values":[-1300,-1200,-1100,-1000,-900,-800,-700,-600,-500,-400,-300,-200,-100,0,100,200,300,400,500,600,700,800,900,1000,1100,1200,1300],"labels":false,"title":null,"tickSize":{"condition":{"test":"datum.value % 500 === 0","value":-6},"value":-3}}}},
"layer":[
{"mark":{"type":"line","color":"black","strokeWidth":1.1},"encoding":{"y":{"field":"v","type":"quantitative","scale":{"domain":[-0.234,1.537],"nice":false,"zero":false},"axis":{"values":[-0.2,0,0.2,0.4,0.6,0.8,1,1.2,1.4],"labelExpr":"indexof([0,0.6,1.2], datum.value) >= 0 ? '' + datum.value : ''","tickSize":{"condition":{"test":"indexof([0,0.6,1.2], datum.value) >= 0","value":-6},"value":-3},"title":null}}}},
{"mark":{"type":"circle","color":"black","size":10,"opacity":1},"encoding":{"y":{"field":"v","type":"quantitative","scale":{"domain":[-0.234,1.537],"nice":false,"zero":false},"axis":{"orient":"right","values":[-0.2,0,0.2,0.4,0.6,0.8,1,1.2,1.4],"labels":false,"title":null,"tickSize":{"condition":{"test":"indexof([0,0.6,1.2], datum.value) >= 0","value":-6},"value":-3}}}}}
],"resolve":{"axis":{"y":"independent"}}},
{"data":{"name":"p9b"},"width":172,"height":104,
"encoding":{"x":{"field":"d","type":"quantitative","scale":{"domain":[-1360,1360],"nice":false,"zero":false},"axis":{"values":[-1300,-1200,-1100,-1000,-900,-800,-700,-600,-500,-400,-300,-200,-100,0,100,200,300,400,500,600,700,800,900,1000,1100,1200,1300],"labels":false,"title":" ","titleFontSize":1,"titlePadding":28.5,"tickSize":{"condition":{"test":"datum.value % 500 === 0","value":-6},"value":-3}}}},
"layer":[
{"mark":{"type":"line","color":"black","strokeWidth":1.1},"encoding":{"y":{"field":"v","type":"quantitative","scale":{"domain":[-8239.3,-8146.5],"nice":false,"zero":false},"axis":{"values":[-8230,-8220,-8210,-8200,-8190,-8180,-8170,-8160,-8150],"labelExpr":"indexof([-8180,-8220], datum.value) >= 0 ? '' + datum.value : ''","tickSize":{"condition":{"test":"indexof([-8180,-8220], datum.value) >= 0","value":-6},"value":-3},"title":"ν̇ (10⁻¹⁵ Hz s⁻¹)","titleFontSize":12}}}},
{"mark":{"type":"circle","color":"black","size":10,"opacity":1},"encoding":{"y":{"field":"v","type":"quantitative","scale":{"domain":[-8239.3,-8146.5],"nice":false,"zero":false},"axis":{"orient":"right","values":[-8230,-8220,-8210,-8200,-8190,-8180,-8170,-8160,-8150],"labels":false,"title":null,"tickSize":{"condition":{"test":"indexof([-8180,-8220], datum.value) >= 0","value":-6},"value":-3}}}}}
],"resolve":{"axis":{"y":"independent"}}},
{"data":{"name":"p10b"},"width":172,"height":104,
"encoding":{"x":{"field":"d","type":"quantitative","scale":{"domain":[-1360,1360],"nice":false,"zero":false},"axis":{"values":[-1300,-1200,-1100,-1000,-900,-800,-700,-600,-500,-400,-300,-200,-100,0,100,200,300,400,500,600,700,800,900,1000,1100,1200,1300],"labels":false,"title":" ","titleFontSize":1,"titlePadding":28.5,"tickSize":{"condition":{"test":"datum.value % 500 === 0","value":-6},"value":-3}}}},
"layer":[
{"mark":{"type":"line","color":"black","strokeWidth":1.1},"encoding":{"y":{"field":"v","type":"quantitative","scale":{"domain":[-8247.3,-8132.5],"nice":false,"zero":false},"axis":{"values":[-8240,-8230,-8220,-8210,-8200,-8190,-8180,-8170,-8160,-8150,-8140],"labelExpr":"indexof([-8160,-8200,-8240], datum.value) >= 0 ? '' + datum.value : ''","tickSize":{"condition":{"test":"indexof([-8160,-8200,-8240], datum.value) >= 0","value":-6},"value":-3},"title":null}}}},
{"mark":{"type":"circle","color":"black","size":10,"opacity":1},"encoding":{"y":{"field":"v","type":"quantitative","scale":{"domain":[-8247.3,-8132.5],"nice":false,"zero":false},"axis":{"orient":"right","values":[-8240,-8230,-8220,-8210,-8200,-8190,-8180,-8170,-8160,-8150,-8140],"labels":false,"title":null,"tickSize":{"condition":{"test":"indexof([-8160,-8200,-8240], datum.value) >= 0","value":-6},"value":-3}}}}}
],"resolve":{"axis":{"y":"independent"}}},
{"data":{"name":"p11b"},"width":172,"height":104,
"encoding":{"x":{"field":"d","type":"quantitative","scale":{"domain":[-1360,1360],"nice":false,"zero":false},"axis":{"values":[-1300,-1200,-1100,-1000,-900,-800,-700,-600,-500,-400,-300,-200,-100,0,100,200,300,400,500,600,700,800,900,1000,1100,1200,1300],"labels":false,"title":" ","titleFontSize":1,"titlePadding":28.5,"tickSize":{"condition":{"test":"datum.value % 500 === 0","value":-6},"value":-3}}}},
"layer":[
{"mark":{"type":"rule","color":"black","strokeWidth":1},"encoding":{"y":{"field":"lo","type":"quantitative","scale":{"domain":[-654.27,-651.17],"nice":false,"zero":false},"axis":null},"y2":{"field":"hi"}}},
{"mark":{"type":"tick","color":"black","orient":"horizontal","size":5,"thickness":1},"encoding":{"y":{"field":"lo","type":"quantitative","scale":{"domain":[-654.27,-651.17],"nice":false,"zero":false},"axis":null}}},
{"mark":{"type":"tick","color":"black","orient":"horizontal","size":5,"thickness":1},"encoding":{"y":{"field":"hi","type":"quantitative","scale":{"domain":[-654.27,-651.17],"nice":false,"zero":false},"axis":null}}},
{"mark":{"type":"line","color":"black","strokeWidth":1.1},"encoding":{"y":{"field":"v","type":"quantitative","scale":{"domain":[-654.27,-651.17],"nice":false,"zero":false},"axis":{"values":[-654,-653.5,-653,-652.5,-652,-651.5],"labelExpr":"indexof([-652,-653,-654], datum.value) >= 0 ? '' + datum.value : ''","tickSize":{"condition":{"test":"indexof([-652,-653,-654], datum.value) >= 0","value":-6},"value":-3},"title":null}}}},
{"mark":{"type":"circle","color":"black","size":10,"opacity":1},"encoding":{"y":{"field":"v","type":"quantitative","scale":{"domain":[-654.27,-651.17],"nice":false,"zero":false},"axis":{"orient":"right","values":[-654,-653.5,-653,-652.5,-652,-651.5],"labels":false,"title":null,"tickSize":{"condition":{"test":"indexof([-652,-653,-654], datum.value) >= 0","value":-6},"value":-3}}}}}
],"resolve":{"axis":{"y":"independent"}}},
{"data":{"name":"p12b"},"width":172,"height":104,
"encoding":{"x":{"field":"d","type":"quantitative","scale":{"domain":[-1360,1360],"nice":false,"zero":false},"axis":{"values":[-1300,-1200,-1100,-1000,-900,-800,-700,-600,-500,-400,-300,-200,-100,0,100,200,300,400,500,600,700,800,900,1000,1100,1200,1300],"labels":false,"title":" ","titleFontSize":1,"titlePadding":28.5,"tickSize":{"condition":{"test":"datum.value % 500 === 0","value":-6},"value":-3}}}},
"layer":[
{"mark":{"type":"rule","color":"black","strokeWidth":1},"encoding":{"y":{"field":"lo","type":"quantitative","scale":{"domain":[-654.05,-652.74],"nice":false,"zero":false},"axis":null},"y2":{"field":"hi"}}},
{"mark":{"type":"tick","color":"black","orient":"horizontal","size":5,"thickness":1},"encoding":{"y":{"field":"lo","type":"quantitative","scale":{"domain":[-654.05,-652.74],"nice":false,"zero":false},"axis":null}}},
{"mark":{"type":"tick","color":"black","orient":"horizontal","size":5,"thickness":1},"encoding":{"y":{"field":"hi","type":"quantitative","scale":{"domain":[-654.05,-652.74],"nice":false,"zero":false},"axis":null}}},
{"mark":{"type":"line","color":"black","strokeWidth":1.1},"encoding":{"y":{"field":"v","type":"quantitative","scale":{"domain":[-654.05,-652.74],"nice":false,"zero":false},"axis":{"values":[-654,-653.8,-653.6,-653.4,-653.2,-653,-652.8],"labelExpr":"indexof([-653.2,-653.8], datum.value) >= 0 ? '' + datum.value : ''","tickSize":{"condition":{"test":"indexof([-653.2,-653.8], datum.value) >= 0","value":-6},"value":-3},"title":null}}}},
{"mark":{"type":"circle","color":"black","size":10,"opacity":1},"encoding":{"y":{"field":"v","type":"quantitative","scale":{"domain":[-654.05,-652.74],"nice":false,"zero":false},"axis":{"orient":"right","values":[-654,-653.8,-653.6,-653.4,-653.2,-653,-652.8],"labels":false,"title":null,"tickSize":{"condition":{"test":"indexof([-653.2,-653.8], datum.value) >= 0","value":-6},"value":-3}}}}}
],"resolve":{"axis":{"y":"independent"}}},
{"data":{"name":"p13t"},"width":172,"height":122,"title":{"text":"B1800-21","subtitle":"53429"},
"encoding":{"x":{"field":"d","type":"quantitative","scale":{"domain":[-1360,1360],"nice":false,"zero":false},"axis":{"values":[-1300,-1200,-1100,-1000,-900,-800,-700,-600,-500,-400,-300,-200,-100,0,100,200,300,400,500,600,700,800,900,1000,1100,1200,1300],"labels":false,"title":null,"tickSize":{"condition":{"test":"datum.value % 500 === 0","value":-6},"value":-3}}}},
"layer":[
{"mark":{"type":"line","color":"black","strokeWidth":1.1},"encoding":{"y":{"field":"v","type":"quantitative","scale":{"domain":[-6.4,37.4],"nice":false,"zero":false},"axis":{"values":[-5,0,5,10,15,20,25,30,35],"labelExpr":"indexof([0,10,20,30], datum.value) >= 0 ? '' + datum.value : ''","tickSize":{"condition":{"test":"indexof([0,10,20,30], datum.value) >= 0","value":-6},"value":-3},"title":"Δν  (μHz)","titleFontSize":15}}}},
{"mark":{"type":"circle","color":"black","size":10,"opacity":1},"encoding":{"y":{"field":"v","type":"quantitative","scale":{"domain":[-6.4,37.4],"nice":false,"zero":false},"axis":{"orient":"right","values":[-5,0,5,10,15,20,25,30,35],"labels":false,"title":null,"tickSize":{"condition":{"test":"indexof([0,10,20,30], datum.value) >= 0","value":-6},"value":-3}}}}}
],"resolve":{"axis":{"y":"independent"}}},
{"data":{"name":"p14t"},"width":172,"height":122,"title":{"text":"B1809-173","subtitle":"53106.2"},
"encoding":{"x":{"field":"d","type":"quantitative","scale":{"domain":[-1360,1360],"nice":false,"zero":false},"axis":{"values":[-1300,-1200,-1100,-1000,-900,-800,-700,-600,-500,-400,-300,-200,-100,0,100,200,300,400,500,600,700,800,900,1000,1100,1200,1300],"labels":false,"title":null,"tickSize":{"condition":{"test":"datum.value % 500 === 0","value":-6},"value":-3}}}},
"layer":[
{"mark":{"type":"line","color":"black","strokeWidth":1.1,"clip":true},"encoding":{"y":{"field":"v","type":"quantitative","scale":{"domain":[-0.00247,0.01705],"nice":false,"zero":false},"axis":{"values":[-0.002,0,0.002,0.004,0.006,0.008,0.01,0.012,0.014,0.016],"labelExpr":"indexof([0,0.01], datum.value) >= 0 ? '' + datum.value : ''","tickSize":{"condition":{"test":"indexof([0,0.01], datum.value) >= 0","value":-6},"value":-3},"title":null}}}},
{"mark":{"type":"circle","color":"black","size":10,"opacity":1,"clip":true},"encoding":{"y":{"field":"v","type":"quantitative","scale":{"domain":[-0.00247,0.01705],"nice":false,"zero":false},"axis":{"orient":"right","values":[-0.002,0,0.002,0.004,0.006,0.008,0.01,0.012,0.014,0.016],"labels":false,"title":null,"tickSize":{"condition":{"test":"indexof([0,0.01], datum.value) >= 0","value":-6},"value":-3}}}}}
],"resolve":{"axis":{"y":"independent"}}},
{"data":{"name":"p15t"},"width":172,"height":122,"title":{"text":"B1809-1917","subtitle":"53251"},
"encoding":{"x":{"field":"d","type":"quantitative","scale":{"domain":[-1360,1360],"nice":false,"zero":false},"axis":{"values":[-1300,-1200,-1100,-1000,-900,-800,-700,-600,-500,-400,-300,-200,-100,0,100,200,300,400,500,600,700,800,900,1000,1100,1200,1300],"labels":false,"title":null,"tickSize":{"condition":{"test":"datum.value % 500 === 0","value":-6},"value":-3}}}},
"layer":[
{"mark":{"type":"line","color":"black","strokeWidth":1.1},"encoding":{"y":{"field":"v","type":"quantitative","scale":{"domain":[-4.1,24.4],"nice":false,"zero":false},"axis":{"values":[-2.5,0,2.5,5,7.5,10,12.5,15,17.5,20,22.5],"labelExpr":"indexof([0,5,10,15,20], datum.value) >= 0 ? '' + datum.value : ''","tickSize":{"condition":{"test":"indexof([0,5,10,15,20], datum.value) >= 0","value":-6},"value":-3},"title":null}}}},
{"mark":{"type":"circle","color":"black","size":10,"opacity":1},"encoding":{"y":{"field":"v","type":"quantitative","scale":{"domain":[-4.1,24.4],"nice":false,"zero":false},"axis":{"orient":"right","values":[-2.5,0,2.5,5,7.5,10,12.5,15,17.5,20,22.5],"labels":false,"title":null,"tickSize":{"condition":{"test":"indexof([0,5,10,15,20], datum.value) >= 0","value":-6},"value":-3}}}}}
],"resolve":{"axis":{"y":"independent"}}},
{"data":{"name":"p16t"},"width":172,"height":122,"title":{"text":"B1821-11","subtitle":"54306"},
"encoding":{"x":{"field":"d","type":"quantitative","scale":{"domain":[-1360,1360],"nice":false,"zero":false},"axis":{"values":[-1300,-1200,-1100,-1000,-900,-800,-700,-600,-500,-400,-300,-200,-100,0,100,200,300,400,500,600,700,800,900,1000,1100,1200,1300],"labels":false,"title":null,"tickSize":{"condition":{"test":"datum.value % 500 === 0","value":-6},"value":-3}}}},
"layer":[
{"mark":{"type":"line","color":"black","strokeWidth":1.1},"encoding":{"y":{"field":"v","type":"quantitative","scale":{"domain":[-1.65,9.74],"nice":false,"zero":false},"axis":{"values":[-1,0,1,2,3,4,5,6,7,8,9],"labelExpr":"indexof([0,2,4,6,8], datum.value) >= 0 ? '' + datum.value : ''","tickSize":{"condition":{"test":"indexof([0,2,4,6,8], datum.value) >= 0","value":-6},"value":-3},"title":null}}}},
{"mark":{"type":"circle","color":"black","size":10,"opacity":1},"encoding":{"y":{"field":"v","type":"quantitative","scale":{"domain":[-1.65,9.74],"nice":false,"zero":false},"axis":{"orient":"right","values":[-1,0,1,2,3,4,5,6,7,8,9],"labels":false,"title":null,"tickSize":{"condition":{"test":"indexof([0,2,4,6,8], datum.value) >= 0","value":-6},"value":-3}}}}}
],"resolve":{"axis":{"y":"independent"}}},
{"data":{"name":"p13b"},"width":172,"height":104,
"encoding":{"x":{"field":"d","type":"quantitative","scale":{"domain":[-1360,1360],"nice":false,"zero":false},"axis":{"values":[-1300,-1200,-1100,-1000,-900,-800,-700,-600,-500,-400,-300,-200,-100,0,100,200,300,400,500,600,700,800,900,1000,1100,1200,1300],"labelExpr":"datum.value % 500 === 0 ? '' + datum.value : ''","title":"Days from Glitch","tickSize":{"condition":{"test":"datum.value % 500 === 0","value":-6},"value":-3}}}},
"layer":[
{"mark":{"type":"line","color":"black","strokeWidth":1.1},"encoding":{"y":{"field":"v","type":"quantitative","scale":{"domain":[-7573.6,-7450.8],"nice":false,"zero":false},"axis":{"values":[-7570,-7560,-7550,-7540,-7530,-7520,-7510,-7500,-7490,-7480,-7470,-7460],"labelExpr":"indexof([-7500,-7550], datum.value) >= 0 ? '' + datum.value : ''","tickSize":{"condition":{"test":"indexof([-7500,-7550], datum.value) >= 0","value":-6},"value":-3},"title":"ν̇ (10⁻¹⁵ Hz s⁻¹)","titleFontSize":12}}}},
{"mark":{"type":"circle","color":"black","size":10,"opacity":1},"encoding":{"y":{"field":"v","type":"quantitative","scale":{"domain":[-7573.6,-7450.8],"nice":false,"zero":false},"axis":{"orient":"right","values":[-7570,-7560,-7550,-7540,-7530,-7520,-7510,-7500,-7490,-7480,-7470,-7460],"labels":false,"title":null,"tickSize":{"condition":{"test":"indexof([-7500,-7550], datum.value) >= 0","value":-6},"value":-3}}}}}
],"resolve":{"axis":{"y":"independent"}}},
{"data":{"name":"p14b"},"width":172,"height":104,
"encoding":{"x":{"field":"d","type":"quantitative","scale":{"domain":[-1360,1360],"nice":false,"zero":false},"axis":{"values":[-1300,-1200,-1100,-1000,-900,-800,-700,-600,-500,-400,-300,-200,-100,0,100,200,300,400,500,600,700,800,900,1000,1100,1200,1300],"labelExpr":"datum.value % 500 === 0 ? '' + datum.value : ''","title":"Days from Glitch","tickSize":{"condition":{"test":"datum.value % 500 === 0","value":-6},"value":-3}}}},
"layer":[
{"mark":{"type":"rule","color":"black","strokeWidth":1,"clip":true},"encoding":{"y":{"field":"lo","type":"quantitative","scale":{"domain":[-13.182,-13.072],"nice":false,"zero":false},"axis":null},"y2":{"field":"hi"}}},
{"mark":{"type":"tick","color":"black","orient":"horizontal","size":5,"thickness":1,"clip":true},"encoding":{"y":{"field":"lo","type":"quantitative","scale":{"domain":[-13.182,-13.072],"nice":false,"zero":false},"axis":null}}},
{"mark":{"type":"tick","color":"black","orient":"horizontal","size":5,"thickness":1,"clip":true},"encoding":{"y":{"field":"hi","type":"quantitative","scale":{"domain":[-13.182,-13.072],"nice":false,"zero":false},"axis":null}}},
{"mark":{"type":"line","color":"black","strokeWidth":1.1,"clip":true},"encoding":{"y":{"field":"v","type":"quantitative","scale":{"domain":[-13.182,-13.072],"nice":false,"zero":false},"axis":{"values":[-13.18,-13.16,-13.14,-13.12,-13.1,-13.08],"labelExpr":"indexof([-13.1,-13.16], datum.value) >= 0 ? '' + datum.value : ''","tickSize":{"condition":{"test":"indexof([-13.1,-13.16], datum.value) >= 0","value":-6},"value":-3},"title":null}}}},
{"mark":{"type":"circle","color":"black","size":10,"opacity":1,"clip":true},"encoding":{"y":{"field":"v","type":"quantitative","scale":{"domain":[-13.182,-13.072],"nice":false,"zero":false},"axis":{"orient":"right","values":[-13.18,-13.16,-13.14,-13.12,-13.1,-13.08],"labels":false,"title":null,"tickSize":{"condition":{"test":"indexof([-13.1,-13.16], datum.value) >= 0","value":-6},"value":-3}}}}}
],"resolve":{"axis":{"y":"independent"}}},
{"data":{"name":"p15b"},"width":172,"height":104,
"encoding":{"x":{"field":"d","type":"quantitative","scale":{"domain":[-1360,1360],"nice":false,"zero":false},"axis":{"values":[-1300,-1200,-1100,-1000,-900,-800,-700,-600,-500,-400,-300,-200,-100,0,100,200,300,400,500,600,700,800,900,1000,1100,1200,1300],"labelExpr":"datum.value % 500 === 0 ? '' + datum.value : ''","title":"Days from Glitch","tickSize":{"condition":{"test":"datum.value % 500 === 0","value":-6},"value":-3}}}},
"layer":[
{"mark":{"type":"line","color":"black","strokeWidth":1.1},"encoding":{"y":{"field":"v","type":"quantitative","scale":{"domain":[-3758.4,-3712.2],"nice":false,"zero":false},"axis":{"values":[-3755,-3750,-3745,-3740,-3735,-3730,-3725,-3720,-3715],"labelExpr":"indexof([-3730,-3750], datum.value) >= 0 ? '' + datum.value : ''","tickSize":{"condition":{"test":"indexof([-3730,-3750], datum.value) >= 0","value":-6},"value":-3},"title":null}}}},
{"mark":{"type":"circle","color":"black","size":10,"opacity":1},"encoding":{"y":{"field":"v","type":"quantitative","scale":{"domain":[-3758.4,-3712.2],"nice":false,"zero":false},"axis":{"orient":"right","values":[-3755,-3750,-3745,-3740,-3735,-3730,-3725,-3720,-3715],"labels":false,"title":null,"tickSize":{"condition":{"test":"indexof([-3730,-3750], datum.value) >= 0","value":-6},"value":-3}}}}}
],"resolve":{"axis":{"y":"independent"}}},
{"data":{"name":"p16b"},"width":172,"height":104,
"encoding":{"x":{"field":"d","type":"quantitative","scale":{"domain":[-1360,1360],"nice":false,"zero":false},"axis":{"values":[-1300,-1200,-1100,-1000,-900,-800,-700,-600,-500,-400,-300,-200,-100,0,100,200,300,400,500,600,700,800,900,1000,1100,1200,1300],"labelExpr":"datum.value % 500 === 0 ? '' + datum.value : ''","title":"Days from Glitch","tickSize":{"condition":{"test":"datum.value % 500 === 0","value":-6},"value":-3}}}},
"layer":[
{"mark":{"type":"rule","color":"black","strokeWidth":1},"encoding":{"y":{"field":"lo","type":"quantitative","scale":{"domain":[-19.21,-18.376],"nice":false,"zero":false},"axis":null},"y2":{"field":"hi"}}},
{"mark":{"type":"tick","color":"black","orient":"horizontal","size":5,"thickness":1},"encoding":{"y":{"field":"lo","type":"quantitative","scale":{"domain":[-19.21,-18.376],"nice":false,"zero":false},"axis":null}}},
{"mark":{"type":"tick","color":"black","orient":"horizontal","size":5,"thickness":1},"encoding":{"y":{"field":"hi","type":"quantitative","scale":{"domain":[-19.21,-18.376],"nice":false,"zero":false},"axis":null}}},
{"mark":{"type":"line","color":"black","strokeWidth":1.1},"encoding":{"y":{"field":"v","type":"quantitative","scale":{"domain":[-19.21,-18.376],"nice":false,"zero":false},"axis":{"values":[-19.2,-19.1,-19,-18.9,-18.8,-18.7,-18.6,-18.5,-18.4],"labelExpr":"indexof([-18.6,-19], datum.value) >= 0 ? '' + datum.value : ''","tickSize":{"condition":{"test":"indexof([-18.6,-19], datum.value) >= 0","value":-6},"value":-3},"title":null}}}},
{"mark":{"type":"circle","color":"black","size":10,"opacity":1},"encoding":{"y":{"field":"v","type":"quantitative","scale":{"domain":[-19.21,-18.376],"nice":false,"zero":false},"axis":{"orient":"right","values":[-19.2,-19.1,-19,-18.9,-18.8,-18.7,-18.6,-18.5,-18.4],"labels":false,"title":null,"tickSize":{"condition":{"test":"indexof([-18.6,-19], datum.value) >= 0","value":-6},"value":-3}}}}}
],"resolve":{"axis":{"y":"independent"}}}
],
"columns":4,
"spacing":{"row":-1.1,"column":4.7},
"align":"each",
"bounds":"full",
"config":{
"view":{"stroke":"black","strokeWidth":1.1},
"font":"Liberation Sans",
"axis":{"domain":false,"grid":false,"tickColor":"black","tickWidth":1,"labelFont":"Liberation Sans","labelFontSize":11,"labelColor":"black","labelOverlap":false,"labelFlush":false,"labelBound":false,"labelPadding":8,"titleFont":"Liberation Sans","titleFontWeight":"normal","titleColor":"black"},
"axisY":{"labelAngle":270,"labelAlign":"center","labelBaseline":"bottom","titleFontSize":13,"titlePadding":12},
"axisX":{"titleFontSize":14,"titlePadding":2,"labelPadding":4.5},
"title":{"anchor":"start","frame":"group","offset":-31,"dx":10,"font":"Liberation Sans","fontSize":13,"fontWeight":"bold","color":"black","subtitleFont":"Liberation Sans","subtitleFontSize":13,"subtitleFontWeight":"normal","subtitleColor":"black","subtitlePadding":2}
}
}
